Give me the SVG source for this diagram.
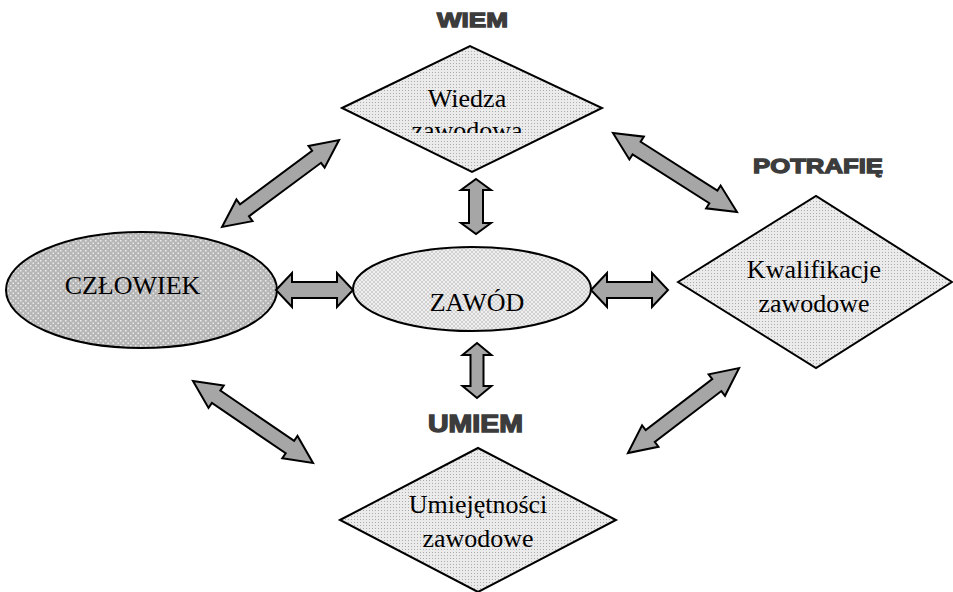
<svg xmlns="http://www.w3.org/2000/svg" width="953" height="592" viewBox="0 0 953 592">
  <style>
    .node { stroke: #000; stroke-width: 2; }
    .diamond { fill: url(#fineDots); }
    .serif { font-family: "Liberation Serif", "Times New Roman", serif; font-size: 26px; fill: #000; text-anchor: middle; }
    .tag { font-family: "Liberation Sans", Arial, sans-serif; font-weight: bold; fill: #3c3c3c; stroke: #3c3c3c; stroke-width: 1.3; text-anchor: middle; }
    .arrow { fill: #a6a6a6; stroke: #000; stroke-width: 2; stroke-linejoin: miter; }
  </style>
  <defs>
    <!-- fine grey dots for the diamonds -->
    <pattern id="fineDots" width="3" height="3" patternUnits="userSpaceOnUse">
      <rect width="3" height="3" fill="#ebebeb"/>
      <rect width="1" height="1" fill="#acacac"/>
    </pattern>
    <!-- dark grey with white dots -->
    <pattern id="whiteDots" width="5" height="5" patternUnits="userSpaceOnUse">
      <rect width="5" height="5" fill="#b6b6b6"/>
      <rect x="0" y="0" width="1.5" height="1.5" fill="#ececec"/>
      <rect x="2.5" y="2.5" width="1.5" height="1.5" fill="#ececec"/>
    </pattern>
    <!-- light cross hatch -->
    <pattern id="hatch" width="4" height="4" patternUnits="userSpaceOnUse">
      <rect width="4" height="4" fill="#efefef"/>
      <path d="M0,4 L4,0 M0,0 L4,4" stroke="#c4c4c4" stroke-width="0.7"/>
    </pattern>
    <clipPath id="topClip">
      <rect x="340" y="40" width="265" height="93"/>
    </clipPath>
  </defs>

  <rect width="953" height="592" fill="#fff"/>

  <!-- labels -->
  <text class="tag" x="472.5" y="27" font-size="21" textLength="71" lengthAdjust="spacingAndGlyphs">WIEM</text>
  <text class="tag" x="818" y="173" font-size="21" textLength="130" lengthAdjust="spacingAndGlyphs">POTRAFIĘ</text>
  <text class="tag" x="475.5" y="432" font-size="23" textLength="95" lengthAdjust="spacingAndGlyphs">UMIEM</text>

  <g id="wiedza">
    <polygon class="node diamond" points="342,108 470,46 602,108 472,172"/>
    <g clip-path="url(#topClip)">
      <text class="serif" x="467" y="107">Wiedza</text>
      <text class="serif" x="467" y="139">zawodowa</text>
    </g>
  </g>

  <g id="kwalifikacje">
    <polygon class="node diamond" points="678,282 816,196 952,282 816,368"/>
    <text class="serif" x="814" y="278">Kwalifikacje</text>
    <text class="serif" x="814" y="312">zawodowe</text>
  </g>

  <g id="umiejetnosci">
    <polygon class="node diamond" points="340,520 478,448 616,520 478,592"/>
    <text class="serif" x="478" y="513">Umiejętności</text>
    <text class="serif" x="478" y="547">zawodowe</text>
  </g>

  <g id="czlowiek">
    <ellipse class="node" cx="141.5" cy="290" rx="135.5" ry="58" fill="url(#whiteDots)"/>
    <text class="serif" x="132.5" y="294">CZŁOWIEK</text>
  </g>

  <g id="zawod">
    <ellipse class="node" cx="472" cy="289" rx="119" ry="42" fill="url(#hatch)"/>
    <text class="serif" x="477" y="311">ZAWÓD</text>
  </g>

  <!-- double-headed block arrows -->
  <g id="connectors">
    <!-- horizontal -->
    <path class="arrow" d="M276,290 L292,273 L292,282 L337,282 L337,273 L353,290 L337,307 L337,298 L292,298 L292,307 Z"/>
    <path class="arrow" d="M591,290 L607,273 L607,282 L652,282 L652,273 L668,290 L652,307 L652,298 L607,298 L607,307 Z"/>
    <!-- vertical -->
    <path class="arrow" d="M476,179 L491,190 L483,190 L483,223 L491,223 L476,234 L461,223 L469,223 L469,190 L461,190 Z"/>
    <path class="arrow" d="M477,343 L491.5,355 L483.5,355 L483.5,386 L491.5,386 L477,398 L462.5,386 L470.5,386 L470.5,355 L462.5,355 Z"/>
    <!-- diagonal -->
    <path class="arrow" transform="translate(222,227) rotate(-36.6)" d="M0,0 L28,-13.5 L28,-7.5 L117.8,-7.5 L117.8,-13.5 L145.8,0 L117.8,13.5 L117.8,7.5 L28,7.5 L28,13.5 Z"/>
    <path class="arrow" transform="translate(613,133) rotate(32.5)" d="M0,0 L28,-13.5 L28,-7.5 L119,-7.5 L119,-13.5 L147,0 L119,13.5 L119,7.5 L28,7.5 L28,13.5 Z"/>
    <path class="arrow" transform="translate(193,381) rotate(34.3)" d="M0,0 L28,-13.5 L28,-7.5 L117.3,-7.5 L117.3,-13.5 L145.3,0 L117.3,13.5 L117.3,7.5 L28,7.5 L28,13.5 Z"/>
    <path class="arrow" transform="translate(628,453) rotate(-37.4)" d="M0,0 L28,-13.5 L28,-7.5 L111.8,-7.5 L111.8,-13.5 L139.8,0 L111.8,13.5 L111.8,7.5 L28,7.5 L28,13.5 Z"/>
  </g>
</svg>
